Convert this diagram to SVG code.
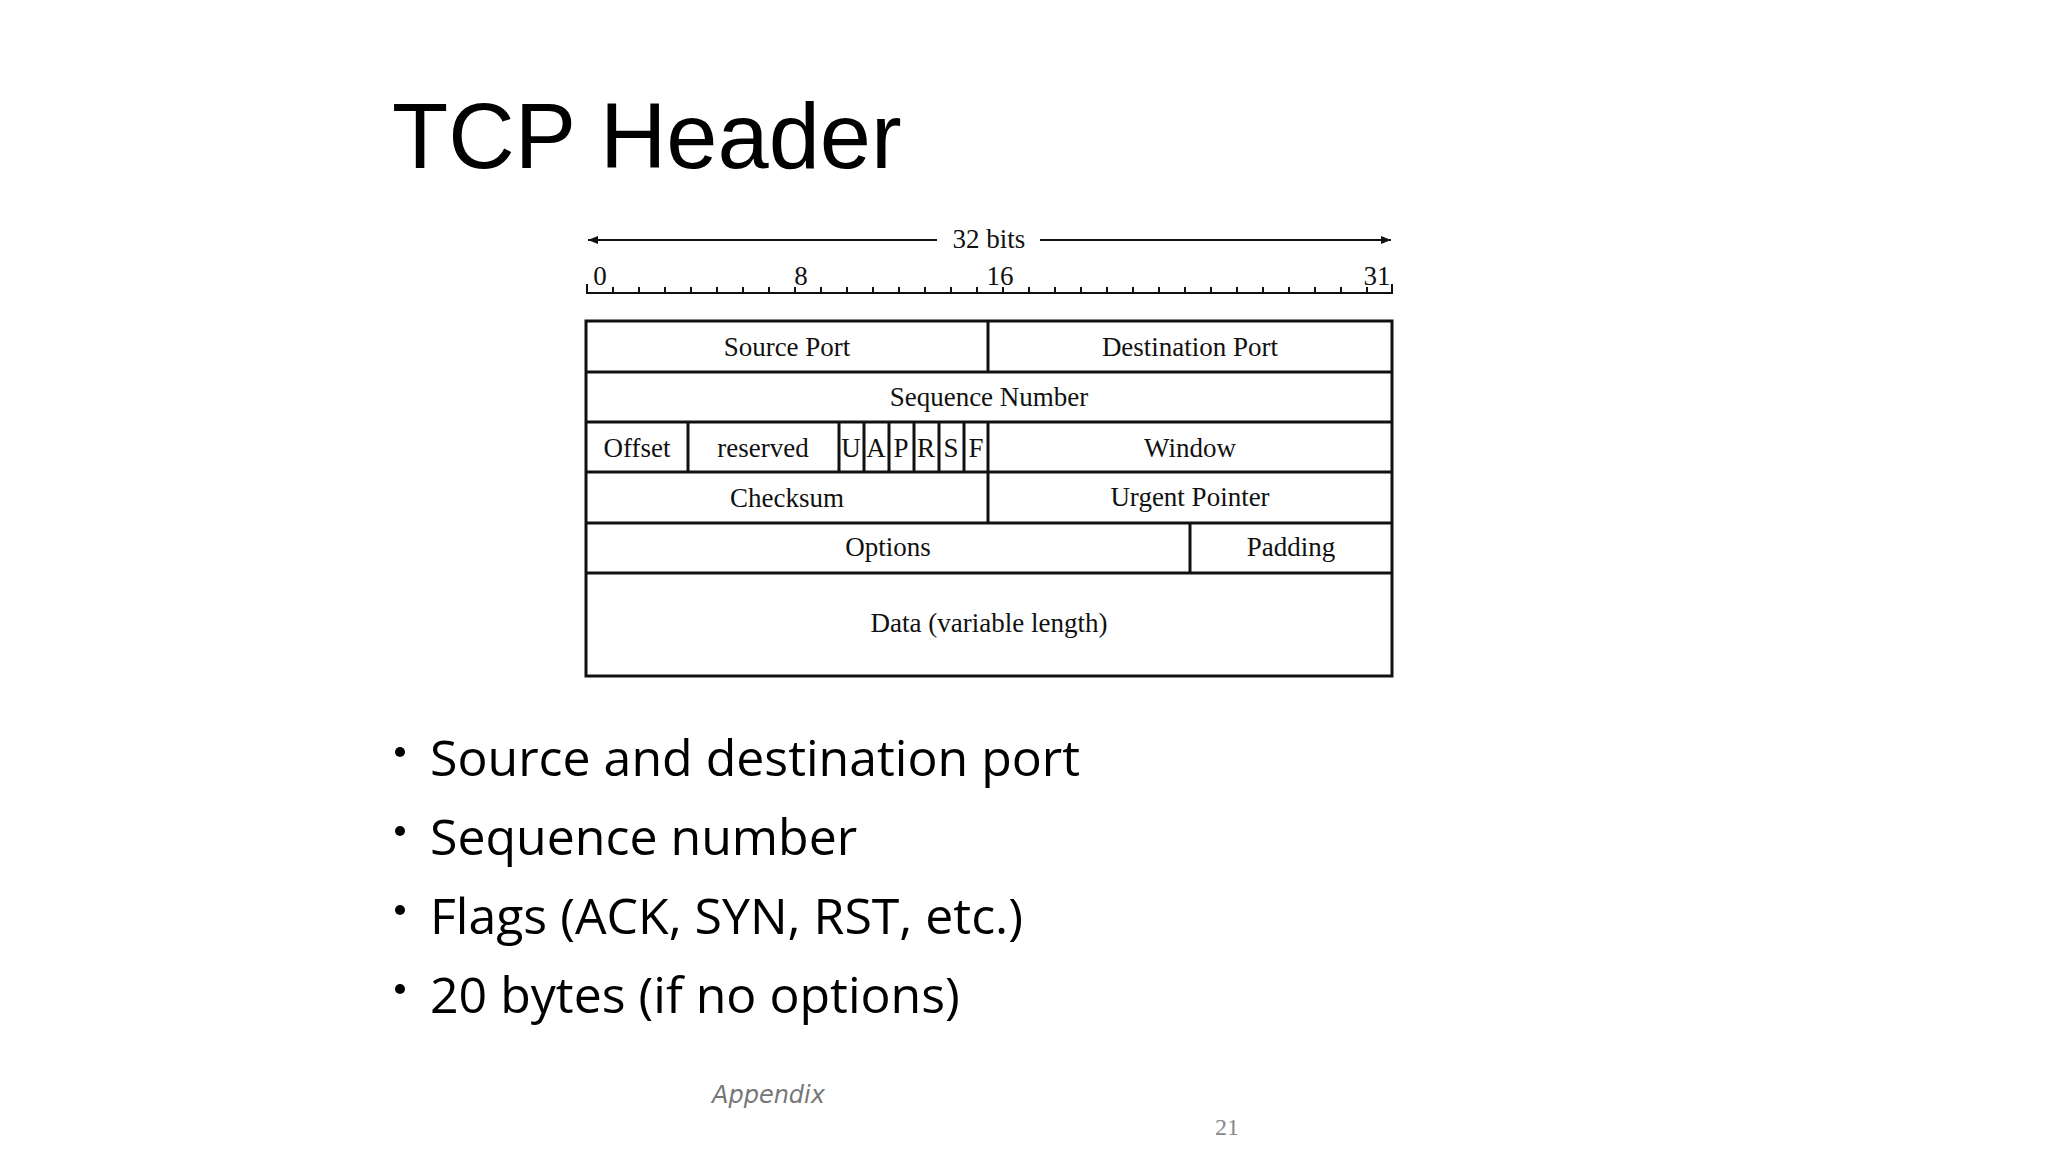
<svg xmlns="http://www.w3.org/2000/svg" width="2048" height="1152" viewBox="0 0 2048 1152">
<style>
.t{font-family:"Liberation Serif",serif;font-size:27px;fill:#111;text-anchor:middle}
.b{fill:none;stroke:#111;stroke-width:3}
.bl{font-family:"Open Sans","Noto Sans",sans-serif;font-size:50px;fill:#000}
</style>
<defs><marker id="ah" viewBox="0 0 10 10" refX="10" refY="5" markerWidth="10" markerHeight="10" markerUnits="userSpaceOnUse" orient="auto-start-reverse"><path d="M0,1 L10,5 L0,9 Z" fill="#111"/></marker></defs>
<rect width="2048" height="1152" fill="#fff"/>
<text x="392" y="168" font-family="Liberation Sans,sans-serif" font-size="92" fill="#000">TCP Header</text>
<g id="connectors">
<line x1="588" y1="240" x2="937" y2="240" stroke="#111" stroke-width="2" marker-start="url(#ah)"/>
<line x1="1040" y1="240" x2="1391" y2="240" stroke="#111" stroke-width="2" marker-end="url(#ah)"/>
</g>
<text class="t" x="989" y="248">32 bits</text>
<g id="ruler" stroke="#111" stroke-width="2">
<path d="M587,284 V293 H1392 V284" fill="none"/>
<path d="M613,293v-6M639,293v-6M665,293v-6M691,293v-6M717,293v-6M743,293v-6M769,293v-6M795,293v-6M821,293v-6M847,293v-6M873,293v-6M899,293v-6M925,293v-6M951,293v-6M977,293v-6M1003,293v-6M1029,293v-6M1055,293v-6M1081,293v-6M1107,293v-6M1133,293v-6M1159,293v-6M1185,293v-6M1211,293v-6M1237,293v-6M1263,293v-6M1289,293v-6M1315,293v-6M1341,293v-6M1367,293v-6"/>
</g>
<text class="t" x="600" y="285">0</text>
<text class="t" x="801" y="285">8</text>
<text class="t" x="1000" y="285">16</text>
<text class="t" x="1377" y="285">31</text>
<g id="table">
<rect class="b" x="586" y="321" width="806" height="355"/>
<path class="b" d="M586,372H1392M586,422H1392M586,472H1392M586,523H1392M586,573H1392M988,321V372M988,422V523M688,422V472M839,422V472M864,422V472M889,422V472M914,422V472M939,422V472M964,422V472M1190,523V573"/>
</g>
<g id="n-src"><text class="t" x="787" y="356">Source Port</text></g>
<g id="n-dst"><text class="t" x="1190" y="356">Destination Port</text></g>
<g id="n-seq"><text class="t" x="989" y="406">Sequence Number</text></g>
<g id="n-off"><text class="t" x="637" y="457">Offset</text></g>
<g id="n-res"><text class="t" x="763" y="457">reserved</text></g>
<g id="n-flags"><text class="t" x="851" y="457">U</text><text class="t" x="876" y="457">A</text><text class="t" x="901" y="457">P</text><text class="t" x="926" y="457">R</text><text class="t" x="951" y="457">S</text><text class="t" x="976" y="457">F</text></g>
<g id="n-win"><text class="t" x="1190" y="457">Window</text></g>
<g id="n-chk"><text class="t" x="787" y="507">Checksum</text></g>
<g id="n-urg"><text class="t" x="1190" y="506">Urgent Pointer</text></g>
<g id="n-opt"><text class="t" x="888" y="556">Options</text></g>
<g id="n-pad"><text class="t" x="1291" y="556">Padding</text></g>
<g id="n-data"><text class="t" x="989" y="632">Data (variable length)</text></g>
<g id="bullets">
<circle cx="400" cy="752" r="5"/><text class="bl" x="430" y="776">Source and destination port</text>
<circle cx="400" cy="831" r="5"/><text class="bl" x="430" y="855">Sequence number</text>
<circle cx="400" cy="910" r="5"/><text class="bl" x="430" y="934">Flags (ACK, SYN, RST, etc.)</text>
<circle cx="400" cy="989" r="5"/><text class="bl" x="430" y="1013">20 bytes (if no options)</text>
</g>
<text x="712" y="1103" font-family="DejaVu Sans,sans-serif" font-style="italic" font-size="24" fill="#777">Appendix</text>
<text x="1215" y="1135" font-family="Liberation Serif,serif" font-size="24" fill="#888">21</text>
</svg>
